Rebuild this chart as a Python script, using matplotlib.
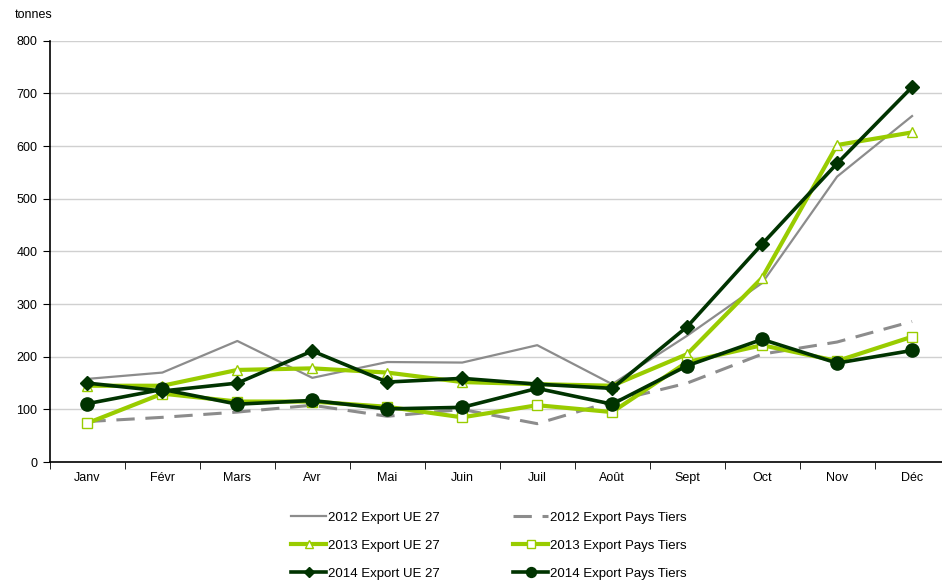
import matplotlib.pyplot as plt

plt.rcParams['font.family'] = ['Liberation Sans', 'DejaVu Sans']

# -------------------------
# Data (tonnes per month)
# -------------------------
months = ["Janv", "Févr", "Mars", "Avr", "Mai", "Juin",
          "Juil", "Août", "Sept", "Oct", "Nov", "Déc"]

ue_2012 = [158, 170, 230, 160, 190, 189, 222, 148, 240, 340, 542, 657]
tiers_2012 = [77, 85, 95, 108, 87, 100, 73, 115, 150, 205, 228, 267]
ue_2013 = [145, 145, 175, 178, 170, 152, 148, 145, 205, 350, 602, 626]
tiers_2013 = [74, 130, 115, 115, 105, 85, 108, 95, 190, 222, 192, 238]
ue_2014 = [150, 135, 150, 211, 152, 159, 148, 140, 257, 414, 567, 712]
tiers_2014 = [111, 138, 110, 117, 101, 104, 140, 110, 183, 233, 188, 212]

GRAY = "#8c8c8c"
LIGHT = "#99cc00"
DARK = "#003300"


def main():
    fig = plt.figure(figsize=(9.42, 5.82), dpi=100)
    ax = fig.add_axes([0.053, 0.206, 0.955, 0.724])
    x = range(len(months))

    h1, = ax.plot(x, ue_2012, color=GRAY, lw=1.6, label="2012 Export UE 27")
    h4, = ax.plot(x, tiers_2012, color=GRAY, lw=2.2, dashes=(6, 3.5),
                  label="2012 Export Pays Tiers")
    h2, = ax.plot(x, ue_2013, color=LIGHT, lw=3, marker="^", ms=7,
                  mfc="white", mec=LIGHT, mew=1, label="2013 Export UE 27")
    h5, = ax.plot(x, tiers_2013, color=LIGHT, lw=3, marker="s", ms=7,
                  mfc="white", mec=LIGHT, mew=1, label="2013 Export Pays Tiers")
    h3, = ax.plot(x, ue_2014, color=DARK, lw=2.6, marker="D", ms=7,
                  label="2014 Export UE 27")
    h6, = ax.plot(x, tiers_2014, color=DARK, lw=2.6, marker="o", ms=9.5,
                  label="2014 Export Pays Tiers")

    ax.set_xlim(-0.5, 11.5)
    ax.set_ylim(0, 800)
    ax.set_yticks(range(0, 801, 100))
    ax.yaxis.grid(True, color="#d0d0d0", lw=1)
    ax.set_axisbelow(True)

    ax.set_xticks(list(x))
    ax.set_xticklabels(months)
    ax.set_xticks([i - 0.5 for i in range(13)], minor=True)
    ax.tick_params(axis="x", which="major", length=0, pad=7, labelsize=9)
    ax.tick_params(axis="x", which="minor", length=5, direction="out")
    ax.tick_params(axis="y", length=5, direction="out", labelsize=9, pad=4)

    for side in ["top", "right"]:
        ax.spines[side].set_visible(False)
    for side in ["left", "bottom"]:
        ax.spines[side].set_linewidth(1.2)

    fig.text(0.016, 0.975, "tonnes", fontsize=9, va="center")

    fig.legend([h1, h2, h3, h4, h5, h6],
               [h.get_label() for h in [h1, h2, h3, h4, h5, h6]],
               ncol=2, loc="center", bbox_to_anchor=(0.519, 0.062),
               frameon=False, fontsize=9.5, handlelength=2.6,
               columnspacing=5.6, labelspacing=1.2, handletextpad=0.15,
               markerscale=0.75)

    fig.savefig("out.png", dpi=100)


if __name__ == "__main__":
    main()
